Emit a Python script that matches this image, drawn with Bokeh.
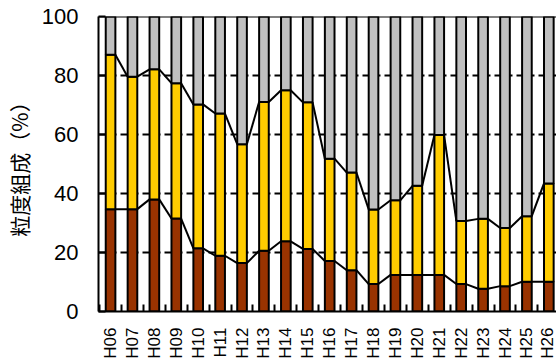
import numpy as np
from bokeh.plotting import figure
from bokeh.models import FixedTicker, Span, ColumnDataSource
from bokeh.embed import file_html
from bokeh.resources import INLINE

categories = ["H06", "H07", "H08", "H09", "H10", "H11", "H12", "H13", "H14", "H15", "H16",
              "H17", "H18", "H19", "H20", "H21", "H22", "H23", "H24", "H25", "H26"]
fine = [34.7, 34.7, 38.0, 31.5, 21.4, 18.9, 16.4, 20.6, 23.8, 21.2, 17.1,
        14.0, 9.3, 12.4, 12.4, 12.4, 9.3, 7.7, 8.6, 10.1, 10.1]
medium = [52.3, 44.9, 44.1, 45.9, 48.8, 48.2, 40.3, 50.4, 51.2, 49.7, 34.7,
          33.1, 25.3, 25.3, 30.2, 47.4, 21.4, 23.7, 19.7, 22.2, 33.3]
coarse = [round(100 - a - b, 1) for a, b in zip(fine, medium)]
y_ticks = [0, 20, 40, 60, 80, 100]
colors = ["#993300", "#FFCC00", "#C0C0C0"]

x = list(range(len(categories)))
W = 0.44

p = figure(width=556, height=361, output_backend="svg", toolbar_location=None,
           x_range=(-0.55, 20.35), y_range=(0, 100),
           min_border_left=98, min_border_right=0, min_border_top=16, min_border_bottom=50)
p.background_fill_color = "white"
p.border_fill_color = "white"
p.outline_line_color = None

src = ColumnDataSource(dict(x=x, fine=fine, medium=medium, coarse=coarse))
p.vbar_stack(["fine", "medium", "coarse"], x="x", width=W, source=src,
             color=colors, line_color="black", line_width=2)

# series lines
c1 = np.array(fine)
c2 = c1 + np.array(medium)
xs = np.array(x)
for c in (c1, c2):
    p.segment(x0=xs[:-1] + W / 2, y0=c[:-1], x1=xs[1:] - W / 2, y1=c[1:],
              line_color="black", line_width=2)

# grid
p.xgrid.visible = False
p.ygrid.ticker = FixedTicker(ticks=[20, 40, 60, 80])
p.ygrid.grid_line_color = "black"
p.ygrid.grid_line_width = 2
p.ygrid.grid_line_dash = "7 4"
p.ygrid.level = "underlay"

# y axis
p.yaxis.ticker = FixedTicker(ticks=y_ticks)
p.yaxis.major_tick_in = 7
p.yaxis.major_tick_out = 0
p.yaxis.minor_tick_line_color = None
p.yaxis.axis_line_width = 2
p.yaxis.major_tick_line_width = 2
p.yaxis.major_label_standoff = 20
p.yaxis.major_label_text_font = "Liberation Sans"
p.yaxis.major_label_text_font_size = "22px"
p.yaxis.major_label_text_color = "black"
p.yaxis.axis_label = "粒度組成（%）"
p.yaxis.axis_label_text_font = "Noto Sans CJK JP"
p.yaxis.axis_label_text_font_size = "21px"
p.yaxis.axis_label_text_font_style = "normal"
p.yaxis.axis_label_text_color = "black"
p.yaxis.axis_label_standoff = 5

# x axis
p.xaxis.ticker = FixedTicker(ticks=x, minor_ticks=[i + 0.5 for i in range(-1, len(categories))])
p.xaxis.major_label_overrides = {i: c for i, c in enumerate(categories)}
p.xaxis.major_tick_in = 0
p.xaxis.major_tick_out = 0
p.xaxis.minor_tick_in = 7
p.xaxis.minor_tick_out = 0
p.xaxis.minor_tick_line_width = 2
p.xaxis.axis_line_width = 2
p.xaxis.major_label_orientation = np.pi / 2
p.xaxis.major_label_standoff = 16
p.xaxis.major_label_text_font = "Liberation Sans"
p.xaxis.major_label_text_font_size = "17px"
p.xaxis.major_label_text_color = "black"

p.add_layout(Span(location=100, dimension="width", line_color="black", line_width=2))

open("out.html", "w").write(file_html(p, INLINE))
